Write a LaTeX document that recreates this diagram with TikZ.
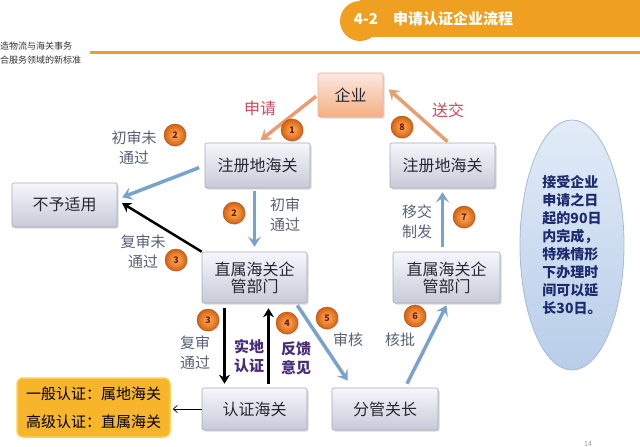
\documentclass[tikz,border=0pt]{standalone}
\usepackage{fontspec}
\setmainfont{Noto Sans CJK SC}
\usetikzlibrary{arrows.meta,shapes.geometric,shadows,calc}
\definecolor{boxtop}{RGB}{246,246,252}
\definecolor{boxbot}{RGB}{200,202,216}
\definecolor{boxline}{RGB}{168,170,188}
\definecolor{txt}{RGB}{40,40,50}
\definecolor{arrblue}{RGB}{122,163,204}
\definecolor{arrorange}{RGB}{232,158,112}
\definecolor{lblgray}{RGB}{88,98,118}
\definecolor{lblpurple}{RGB}{74,44,124}
\definecolor{lblred}{RGB}{204,74,90}
\definecolor{hdrorange}{RGB}{240,160,32}
\definecolor{lineorange}{RGB}{230,160,50}
\definecolor{yellowbox}{RGB}{247,181,44}
\definecolor{yellowline}{RGB}{250,208,90}
\definecolor{elltop}{RGB}{226,236,248}
\definecolor{ellbot}{RGB}{184,205,232}
\definecolor{ellline}{RGB}{165,188,216}
\definecolor{navy}{RGB}{28,42,112}
\definecolor{qtop}{RGB}{252,232,224}
\definecolor{qbot}{RGB}{244,176,130}
\definecolor{badgein}{RGB}{252,178,90}
\definecolor{badgeout}{RGB}{214,96,18}
\definecolor{badgenum}{RGB}{120,20,0}
\begin{document}
\begin{tikzpicture}[x=1pt,y=-1pt,
  box/.style={draw=boxline, line width=0.6pt, rounded corners=2pt,
    top color=boxtop, bottom color=boxbot, minimum width=105pt, minimum height=45pt,
    align=center, font=\fontsize{16}{17}\selectfont, text=txt,
    drop shadow={opacity=0.3, shadow xshift=1.5pt, shadow yshift=-1.5pt}},
  barrow/.style={draw=arrblue, line width=3.5pt, -{Stealth[length=10pt,width=13pt,inset=4pt]}},
  oarrow/.style={draw=arrorange, line width=3.5pt, -{Stealth[length=10pt,width=13pt,inset=4pt]}},
  karrow/.style={draw=black, line width=2.5pt, -{Stealth[length=9pt,width=11pt,inset=3pt]}},
  lbl/.style={font=\fontsize{15}{20}\selectfont, text=lblgray, align=center},
  plbl/.style={font=\fontsize{15}{19}\selectfont\bfseries, text=lblpurple, align=center},
  rlbl/.style={font=\fontsize{16}{20}\selectfont, text=lblred, align=center},
  badgestyle/.style={circle, minimum size=22pt, inner sep=0pt,
    inner color=badgein, outer color=badgeout, draw=badgeout!80!black, line width=0.4pt,
    font=\fontsize{9}{9}\selectfont\bfseries, text=badgenum,
    drop shadow={opacity=0.25, shadow xshift=1pt, shadow yshift=-1pt}}
]
\useasboundingbox (0,0) rectangle (640,447);
\fill[white] (0,0) rectangle (640,447);

% header
\fill[hdrorange] (360,21) circle (20);
\fill[hdrorange] (360,0) rectangle (640,37);
\node[font=\fontsize{15}{15}\selectfont\bfseries, text=white] (hnum) at (366,19) {4-2};
\node[font=\fontsize{15}{15}\selectfont\bfseries, text=white] (htitle) at (453,19) {申请认证企业流程};
\draw[lineorange, line width=3pt] (90,52) -- (640,52);
\node[anchor=west, inner sep=0pt, font=\fontsize{9}{9}\selectfont, text=black!80] (h1) at (0,46) {造物流与海关事务};
\node[anchor=west, inner sep=0pt, font=\fontsize{9}{9}\selectfont, text=black!80] (h2) at (0,60) {合服务领域的新标准};

% nodes
\node[box, top color=qtop, bottom color=qbot, draw={rgb,255:red,232;green,176;blue,160},
      minimum width=65pt, minimum height=44pt] (qiye) at (350.5,95) {企业};
\node[box] (zc1) at (257.5,165.5) {注册地海关};
\node[box, minimum height=44pt] (byy) at (64.5,205) {不予适用};
\node[box, minimum height=51pt] (zs1) at (254.5,277.5) {直属海关企\\管部门};
\node[box, minimum height=42pt] (rz) at (254.5,409) {认证海关};
\node[draw=yellowline, line width=1.5pt, fill=yellowbox, rounded corners=6pt,
      minimum width=153pt, minimum height=59pt, align=left,
      font=\fontsize{15}{28}\selectfont, text=black] (yb) at (93.5,407.5)
      {一般认证：属地海关\\高级认证：直属海关};
\node[box] (zc2) at (442.5,165.5) {注册地海关};
\node[box, minimum height=51pt, minimum width=107pt] (zs2) at (446.5,277.5) {直属海关企\\管部门};
\node[box, minimum height=42pt, minimum width=106pt] (fg) at (385,409) {分管关长};
\node[ellipse, draw=ellline, line width=0.8pt, top color=elltop, bottom color=ellbot,
      minimum width=104pt, minimum height=250pt, align=left, inner sep=0pt,
      font=\fontsize{14}{18}\selectfont\bfseries, text=navy] (ell) at (572,245)
      {接受企业\\申请之日\\起的90日\\内完成，\\特殊情形\\下办理时\\间可以延\\长30日。};

% connectors
\draw[oarrow, shorten <=2pt, shorten >=4pt] (qiye.west) -- (zc1.north);
\draw[barrow, shorten <=6pt, shorten >=2pt] (zc1.west) -- ($(byy.east)+(3,-7)$);
\draw[karrow, shorten >=2pt] (zs1.north west) -- ($(byy.east)+(3,-3)$);
\draw[barrow, shorten <=3pt, shorten >=5pt] (zc1.south -| zs1.north) -- (zs1.north);
\draw[karrow, shorten <=5pt, shorten >=4pt] ($(zs1.south)+(-30,0)$) -- ($(rz.north)+(-30,0)$);
\draw[karrow, shorten <=4pt, shorten >=5pt] ($(rz.north)+(14,0)$) -- ($(zs1.south)+(14,0)$);
\draw[barrow] ($(zs1.south east)+(-10,2)$) -- ($(fg.north west)+(16,-7)$);
\draw[barrow] ($(fg.north)+(22,-4)$) -- ($(zs2.south)+(0,2)$);
\draw[barrow, shorten <=5pt, shorten >=4pt] (zc2.south |- zs2.north) -- (zc2.south);
\draw[oarrow, shorten >=2pt] ($(zc2.north)+(5,-1)$) -- ($(qiye.east)+(4,-7)$);
\draw[black, line width=0.7pt, -{Straight Barb[length=4pt,width=7pt]}, shorten >=2pt] (rz.west) -- (rz.west -| yb.east);

% labels
\node[rlbl] (lsq) at (260,108) {申请};
\node[rlbl] (lsj) at (448,110) {送交};
\node[lbl] (l1) at (134,147.5) {初审未\\通过};
\node[lbl] (l2) at (285,215) {初审\\通过};
\node[lbl] (l3) at (143,252) {复审未\\通过};
\node[lbl] (l4) at (195,353) {复审\\通过};
\node[plbl] (l5) at (249,356) {实地\\认证};
\node[plbl] (l6) at (296,358) {反馈\\意见};
\node[lbl] (l7) at (348,340) {审核};
\node[lbl] (l8) at (400,340) {核批};
\node[lbl] (l9) at (417,222) {移交\\制发};

% badges
\node[badgestyle] (b1) at (292,130) {1};
\node[badgestyle] (b2a) at (175,135) {2};
\node[badgestyle] (b2b) at (234,213) {2};
\node[badgestyle] (b3a) at (176,260) {3};
\node[badgestyle] (b3b) at (208,320) {3};
\node[badgestyle] (b4) at (287,323) {4};
\node[badgestyle] (b5) at (327,318) {5};
\node[badgestyle] (b6) at (415,316) {6};
\node[badgestyle] (b7) at (464,217) {7};
\node[badgestyle] (b8) at (402,127) {8};

\node[font=\fontsize{7}{7}\selectfont, text=black!40] (pg) at (588,444) {14};
\end{tikzpicture}
\end{document}
